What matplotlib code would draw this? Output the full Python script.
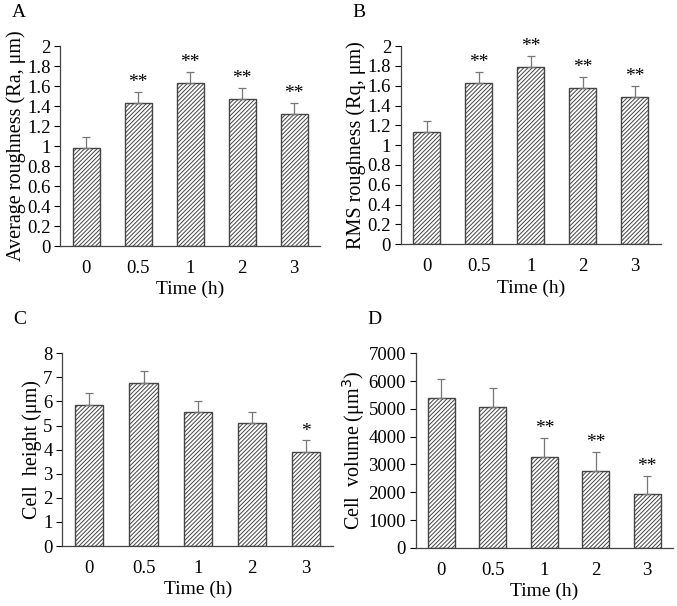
import numpy as np
import matplotlib.pyplot as plt

plt.rcParams['font.family'] = ['Liberation Serif', 'DejaVu Serif']
plt.rcParams['hatch.linewidth'] = 0.7
plt.rcParams['hatch.color'] = '#606060'

times = ['0', '0.5', '1', '2', '3']

ra = [0.98, 1.43, 1.63, 1.47, 1.32]
ra_err = [0.11, 0.11, 0.11, 0.11, 0.11]
ra_sig = ['', '**', '**', '**', '**']

rq = [1.13, 1.63, 1.79, 1.58, 1.49]
rq_err = [0.11, 0.11, 0.11, 0.11, 0.11]
rq_sig = ['', '**', '**', '**', '**']

height = [5.87, 6.78, 5.55, 5.10, 3.90]
height_err = [0.47, 0.50, 0.47, 0.48, 0.48]
height_sig = ['', '', '', '', '*']

volume = [5400, 5080, 3280, 2770, 1920]
volume_err = [680, 680, 680, 680, 680]
volume_sig = ['', '', '**', '**', '**']

fig = plt.figure(figsize=(6.77, 6.06), dpi=100)

panels = [
    ('A', [0.089, 0.594, 0.384, 0.330], ra, ra_err, ra_sig, 2, np.arange(0, 2.01, 0.2),
     'Average roughness (Ra, μm)'),
    ('B', [0.592, 0.597, 0.384, 0.327], rq, rq_err, rq_sig, 2, np.arange(0, 2.01, 0.2),
     'RMS roughness (Rq, μm)'),
    ('C', [0.092, 0.099, 0.400, 0.318], height, height_err, height_sig, 8, np.arange(0, 9, 1),
     'Cell  height (μm)'),
    ('D', [0.614, 0.096, 0.380, 0.321], volume, volume_err, volume_sig, 7000, np.arange(0, 7001, 1000),
     'Cell  volume (μm$^3$)'),
]

for letter, pos, vals, errs, sig, ymax, yt, ylab in panels:
    ax = fig.add_axes(pos)
    x = np.arange(len(times))
    ax.bar(x, vals, width=0.52, color='white', edgecolor='#444444', linewidth=1.0,
           hatch='////////', zorder=2)
    ax.errorbar(x, vals, yerr=[np.zeros(len(errs)), errs], fmt='none',
                ecolor='#777777', elinewidth=0.9, capsize=3, capthick=0.9, zorder=3)
    for xi, v, e, s in zip(x, vals, errs, sig):
        if s:
            ax.text(xi, v + e + ymax * 0.005, s, ha='center', va='bottom', fontsize=14)
    ax.set_xlim(-0.5, len(times) - 0.5)
    ax.set_ylim(0, ymax)
    ax.set_yticks(yt)
    if ymax == 2:
        ax.set_yticklabels(['0' if v == 0 else ('%g' % v) for v in yt])
    ax.set_xticks(x)
    ax.set_xticklabels(times)
    ax.tick_params(axis='x', length=0, labelsize=13.5, pad=10)
    ax.tick_params(axis='y', length=4, direction='out', labelsize=13.5, pad=3)
    for sp in ['top', 'right']:
        ax.spines[sp].set_visible(False)
    for sp in ['left', 'bottom']:
        ax.spines[sp].set_color('#444444')
        ax.spines[sp].set_linewidth(0.9)
    ax.set_xlabel('Time (h)', fontsize=14, labelpad=3)
    ax.set_ylabel(ylab, fontsize=14.5, labelpad=1)
    fig.text(pos[0] - 0.072, pos[1] + pos[3] + 0.055, letter, fontsize=14, ha='left', va='center')

fig.savefig('out.png', dpi=100)
